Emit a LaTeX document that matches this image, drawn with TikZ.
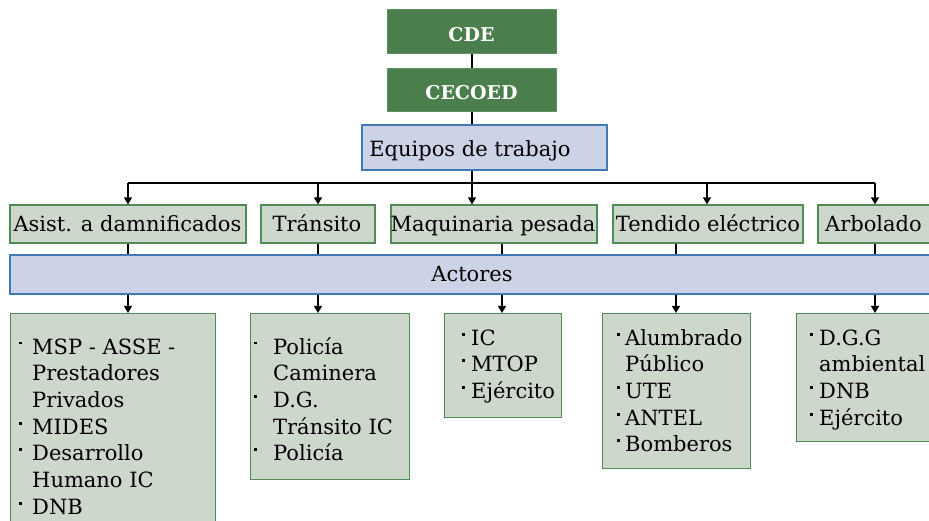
\documentclass[tikz,border=0pt]{standalone}
\usepackage{fontspec}
\setmainfont{DejaVu Serif}
\usetikzlibrary{arrows.meta}
\definecolor{dkgreen}{HTML}{4A7E4D}
\definecolor{dkgreenb}{HTML}{5E9160}
\definecolor{ltgreen}{HTML}{CED7CB}
\definecolor{grnb}{HTML}{4F8B53}
\definecolor{ltblue}{HTML}{CDD3E6}
\definecolor{blueb}{HTML}{3F7AB5}
\newcommand{\blt}{\rule[9.5pt]{3pt}{3pt}}
\begin{document}
\begin{tikzpicture}[x=1pt,y=-1pt,
  dkbox/.style={draw=dkgreenb,fill=dkgreen,line width=1pt,inner sep=0},
  gbox/.style={draw=grnb,fill=ltgreen,line width=1.2pt,inner sep=0},
  bbox/.style={draw=blueb,fill=ltblue,line width=1.2pt,inner sep=0},
  txt/.style={inner sep=0,font=\fontsize{21}{26.7}\selectfont},
  wtxt/.style={inner sep=0,text=white,font=\fontsize{19}{22}\selectfont\bfseries},
  conn/.style={line width=1.3pt},
  arr/.style={conn,-{Triangle[length=7pt,width=8pt]}}]
\useasboundingbox (0,0) rectangle (929,521);
\clip (0,0) rectangle (929,521);
% top
\node[dkbox,minimum width=169,minimum height=44] (cde) at (471.5,32) {};
\node[wtxt,anchor=base] (cdet) at (471.5,42) {CDE};
\node[dkbox,minimum width=169,minimum height=43] (cecoed) at (471.5,90.5) {};
\node[wtxt,anchor=base] (cecoedt) at (471.5,100) {CECOED};
\node[bbox,minimum width=245,minimum height=45] (eq) at (484.5,147.5) {};
\node[txt,anchor=base] (eqt) at (470,157) {Equipos de trabajo};
% row 2
\node[gbox,minimum width=236,minimum height=38] (r1) at (128,224) {};
\node[gbox,minimum width=114,minimum height=38] (r2) at (318,224) {};
\node[gbox,minimum width=206,minimum height=38] (r3) at (494,224) {};
\node[gbox,minimum width=190,minimum height=38] (r4) at (708,224) {};
\node[gbox,minimum width=117,minimum height=38] (r5) at (876.5,224) {};
\node[txt,anchor=base] (r1t) at (127.5,232) {Asist. a damnificados};
\node[txt,anchor=base] (r2t) at (317,232) {Tránsito};
\node[txt,anchor=base] (r3t) at (493,232) {Maquinaria pesada};
\node[txt,anchor=base] (r4t) at (708,232) {Tendido eléctrico};
\node[txt,anchor=base] (r5t) at (873.5,232) {Arbolado};
% actores
\node[bbox,minimum width=925,minimum height=39] (act) at (472.5,274.5) {};
\node[txt,anchor=base] (actt) at (472,282) {Actores};
% bottom boxes
\node[gbox,anchor=north west,minimum width=205,minimum height=215] (b1) at (10,313) {};
\node[gbox,anchor=north west,minimum width=159,minimum height=166] (b2) at (250,313) {};
\node[gbox,anchor=north west,minimum width=117,minimum height=104] (b3) at (444,313) {};
\node[gbox,anchor=north west,minimum width=148,minimum height=155] (b4) at (602,313) {};
\node[gbox,anchor=north west,minimum width=139,minimum height=128] (b5) at (796,313) {};
\node[txt,anchor=base west] (b1t) at (19,354) {\begin{tabular}[t]{@{}p{13pt}@{}l@{}}
\blt & MSP - ASSE -\\ & Prestadores\\ & Privados\\ \blt & MIDES\\ \blt & Desarrollo\\ & Humano IC\\ \blt & DNB\end{tabular}};
\node[txt,anchor=base west] (b2t) at (254,354) {\begin{tabular}[t]{@{}p{19pt}@{}l@{}}
\blt & Policía\\ & Caminera\\ \blt & D.G.\\ & Tránsito IC\\ \blt & Policía\end{tabular}};
\node[txt,anchor=base west] (b3t) at (462,345) {\begin{tabular}[t]{@{}p{9pt}@{}l@{}}
\blt & IC\\ \blt & MTOP\\ \blt & Ejército\end{tabular}};
\node[txt,anchor=base west] (b4t) at (617,345) {\begin{tabular}[t]{@{}p{8pt}@{}l@{}}
\blt & Alumbrado\\ & Público\\ \blt & UTE\\ \blt & ANTEL\\ \blt & Bomberos\end{tabular}};
\node[txt,anchor=base west] (b5t) at (810,345) {\begin{tabular}[t]{@{}p{9pt}@{}l@{}}
\blt & D.G.G\\ & ambiental\\ \blt & DNB\\ \blt & Ejército\end{tabular}};
% connectors
\coordinate (c1) at (128,183);
\coordinate (c2) at (318,183);
\coordinate (c3) at (472,183);
\coordinate (c4) at (707,183);
\coordinate (c5) at (875,183);
\coordinate (d3) at (502,0);
\coordinate (d4) at (676,0);
\draw[conn] (cde.south -| c3) -- (c3 |- cecoed.north);
\draw[conn] (cecoed.south -| c3) -- (c3 |- eq.north);
\draw[conn] (eq.south -| c3) -- (c3);
\draw[conn] (c1) -- (c5);
\draw[arr] (c1) -- (c1 |- r1.north);
\draw[arr] (c2) -- (c2 |- r2.north);
\draw[arr] (c3) -- (c3 |- r3.north);
\draw[arr] (c4) -- (c4 |- r4.north);
\draw[arr] (c5) -- (c5 |- r5.north);
\draw[conn] (c1 |- r1.south) -- (c1 |- act.north);
\draw[conn] (c2 |- r2.south) -- (c2 |- act.north);
\draw[conn] (d3 |- r3.south) -- (d3 |- act.north);
\draw[conn] (d4 |- r4.south) -- (d4 |- act.north);
\draw[conn] (c5 |- r5.south) -- (c5 |- act.north);
\draw[arr] (c1 |- act.south) -- (c1 |- b1.north);
\draw[arr] (c2 |- act.south) -- (c2 |- b2.north);
\draw[arr] (d3 |- act.south) -- (d3 |- b3.north);
\draw[arr] (d4 |- act.south) -- (d4 |- b4.north);
\draw[arr] (c5 |- act.south) -- (c5 |- b5.north);
\end{tikzpicture}
\end{document}
